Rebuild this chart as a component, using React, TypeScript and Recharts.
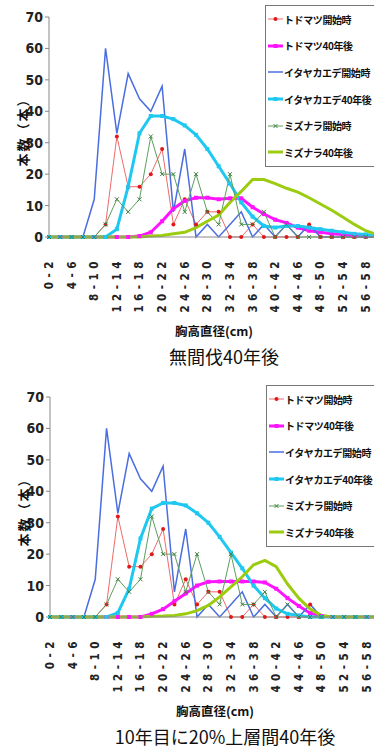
import React from "react";
import { LineChart, Line, XAxis, YAxis, Legend } from "recharts";

// 胸高直径階 (2cm 括約)
const classes = [
  "0-2", "2-4", "4-6", "6-8", "8-10", "10-12", "12-14", "14-16", "16-18", "18-20",
  "20-22", "22-24", "24-26", "26-28", "28-30", "30-32", "32-34", "34-36", "36-38", "38-40",
  "40-42", "42-44", "44-46", "46-48", "48-50", "50-52", "52-54", "54-56", "56-58", "58-60",
];
const yTicks = [0, 10, 20, 30, 40, 50, 60, 70];

// 開始時 (両シナリオ共通)
const todoStart = [0, 0, 0, 0, 0, 4, 32, 16, 16, 20, 28, 4, 12, 4, 8, 8, 0, 0, 4, 0, 0, 0, 0, 4, 0, 0, 0, 0, 0, 0];
const itaStart = [0, 0, 0, 0, 12, 60, 33, 52, 44, 40, 48, 8, 28, 0, 4, 0, 4, 8, 0, 4, 0, 4, 0, 4, 0, 0, 0, 0, 0, 0];
const mizuStart = [0, 0, 0, 0, 0, 4, 12, 8, 12, 32, 20, 20, 8, 20, 8, 4, 20, 4, 4, 8, 0, 4, 0, 0, 0, 0, 0, 0, 0, 0];

// 無間伐40年後
const todo40A = [0, 0, 0, 0, 0, 0, 0, 0, 0.3, 1.5, 5, 9, 11.5, 12.5, 12.5, 12, 12.3, 12.3, 9.5, 7.3, 5.5, 4.5, 3, 2, 1.5, 1, 0.8, 0.5, 0.3, 0.2];
const ita40A = [0, 0, 0, 0, 0, 0, 2.5, 16, 33, 38.5, 38.5, 37.5, 35.5, 32.5, 28, 22.5, 17, 11, 6.5, 3.5, 3, 3.5, 3.5, 3, 2.5, 2, 1.5, 1, 0.8, 0.5];
const mizu40A = [0, 0, 0, 0, 0, 0, 0, 0, 0, 0.3, 0.5, 1, 1.5, 3, 5, 7, 11, 14.5, 18.3, 18.3, 17, 15.5, 14.3, 12.5, 10.5, 8.5, 6.3, 4, 2, 0.8];

// 10年目に20%上層間伐40年後
const todo40B = [0, 0, 0, 0, 0, 0, 0, 0, 0, 1, 2.5, 5, 7.5, 10, 11.2, 11.3, 11.3, 11.3, 11.3, 11, 9, 6, 3.5, 1.2, 0.3, 0, 0, 0, 0, 0];
const ita40B = [0, 0, 0, 0, 0, 0, 1.3, 9, 25, 34.5, 36.3, 36.3, 35.5, 33, 30, 25.5, 20.5, 15.5, 10, 6, 2.7, 1, 0.5, 0, 0, 0, 0, 0, 0, 0];
const mizu40B = [0, 0, 0, 0, 0, 0, 0, 0, 0, 0.2, 0.3, 0.5, 1, 2, 3.7, 6.4, 9.6, 12.8, 16.6, 18, 16, 10.5, 6, 2.5, 0.5, 0, 0, 0, 0, 0];

const JP = '"Noto Sans CJK JP", sans-serif';
const NUM = '"Liberation Sans Narrow", "DejaVu Sans Condensed", "Liberation Sans", Arial, sans-serif';

const ORDER = ["todoStart", "todo40", "itaStart", "ita40", "mizuStart", "mizu40"];

const STYLE: Record<string, { color: string; width: number; dot: string; dotColor: string }> = {
  todoStart: { color: "#f06a6a", width: 1, dot: "circle", dotColor: "#e01818" },
  todo40: { color: "#ff14ff", width: 3, dot: "square", dotColor: "#ff14ff" },
  itaStart: { color: "#4a6ee0", width: 1.5, dot: "none", dotColor: "#4a6ee0" },
  ita40: { color: "#1ec8f0", width: 3, dot: "square", dotColor: "#1ec8f0" },
  mizuStart: { color: "#5c9e5c", width: 1, dot: "cross", dotColor: "#3f7f3f" },
  mizu40: { color: "#9ccc10", width: 3, dot: "none", dotColor: "#9ccc10" },
};

function marker(kind: string, cx: number, cy: number, color: string, key?: any) {
  if (kind === "circle") return <circle key={key} cx={cx} cy={cy} r={2} fill={color} />;
  if (kind === "square") return <rect key={key} x={cx - 2} y={cy - 2} width={4} height={4} fill={color} />;
  if (kind === "cross")
    return (
      <path key={key} d={`M${cx - 2},${cy - 2}L${cx + 2},${cy + 2}M${cx + 2},${cy - 2}L${cx - 2},${cy + 2}`} stroke={color} strokeWidth={1} />
    );
  return <g key={key} />;
}

const makeDot = (name: string) => (p: any) => marker(STYLE[name].dot, p.cx, p.cy, STYLE[name].dotColor, p.key ?? p.index);

function XTick({ x, y, payload }: any) {
  const ty = y + 12;
  return (
    <text
      x={x}
      y={ty}
      transform={`rotate(-90, ${x}, ${ty})`}
      textAnchor="end"
      dy="0.35em"
      fontSize={11.5}
      fontWeight="bold"
      fontFamily={NUM}
      letterSpacing={4.5}
      fill="#222"
    >
      {payload.value}
    </text>
  );
}

function LegendBox({ payload }: any) {
  const items = [...(payload || [])].sort((a: any, b: any) => ORDER.indexOf(a.dataKey) - ORDER.indexOf(b.dataKey));
  return (
    <div style={{ border: "1px solid #777", background: "#fff", width: 140, fontFamily: JP }}>
      {items.map((p: any) => {
        const s = STYLE[p.dataKey];
        return (
          <div key={p.dataKey} style={{ height: 26.6, display: "flex", alignItems: "center" }}>
            <svg width={16} height={10} style={{ marginLeft: 2, flex: "none" }}>
              <line x1={0} y1={5} x2={15} y2={5} stroke={s.color} strokeWidth={s.width} />
              {marker(s.dot, 7.5, 5, s.dotColor)}
            </svg>
            <span style={{ fontSize: 10, letterSpacing: -0.4, fontWeight: "bold", color: "#111", whiteSpace: "nowrap" }}>{p.value}</span>
          </div>
        );
      })}
    </div>
  );
}

function Panel({ top, left, title, todo40, ita40, mizu40 }: any) {
  const data = classes.map((c, i) => ({
    cls: c,
    todoStart: todoStart[i],
    todo40: todo40[i],
    itaStart: itaStart[i],
    ita40: ita40[i],
    mizuStart: mizuStart[i],
    mizu40: mizu40[i],
  }));
  const line = (key: string, name: string) => (
    <Line
      key={key}
      type="linear"
      dataKey={key}
      name={name}
      stroke={STYLE[key].color}
      strokeWidth={STYLE[key].width}
      dot={STYLE[key].dot === "none" ? false : makeDot(key)}
      activeDot={false}
      isAnimationActive={false}
    />
  );
  return (
    <div style={{ position: "absolute", top, left, width: 400, height: 380 }}>
      <LineChart width={387} height={340} data={data} margin={{ top: 17, right: 10, bottom: 3, left: 19 }}>
        <XAxis xAxisId="top" orientation="top" dataKey="cls" tick={false} tickLine={false} height={0} axisLine={{ stroke: "#888" }} />
        <XAxis dataKey="cls" interval={1} height={100} tickLine={false} axisLine={{ stroke: "#888" }} tick={<XTick />} />
        <YAxis
          domain={[0, 70]}
          ticks={yTicks}
          interval={0}
          width={30}
          tickSize={4}
          tickLine={{ stroke: "#888" }}
          axisLine={{ stroke: "#888" }}
          tick={{ fontSize: 14, fontWeight: "bold", fill: "#222", fontFamily: NUM }}
        />
        <Legend
          layout="horizontal"
          verticalAlign="middle"
          align="center"
          itemSorter={(item: any) => ORDER.indexOf(item.dataKey)}
          content={<LegendBox />}
          wrapperStyle={{ left: 265, top: 5, width: 140 }}
        />
        {line("todoStart", "トドマツ開始時")}
        {line("todo40", "トドマツ40年後")}
        {line("itaStart", "イタヤカエデ開始時")}
        {line("ita40", "イタヤカエデ40年後")}
        {line("mizuStart", "ミズナラ開始時")}
        {line("mizu40", "ミズナラ40年後")}
      </LineChart>
      <div
        style={{
          position: "absolute",
          left: 22,
          top: 129,
          transform: "translate(-50%, -50%) rotate(-90deg)",
          fontFamily: JP,
          fontWeight: "bold",
          fontSize: 13,
          letterSpacing: 2,
          whiteSpace: "nowrap",
          color: "#111",
        }}
      >
        本数（本）
      </div>
      <div
        style={{
          position: "absolute",
          left: 214,
          top: 330,
          transform: "translate(-50%, -50%)",
          fontFamily: JP,
          fontWeight: "bold",
          fontSize: 12.5,
          whiteSpace: "nowrap",
          color: "#111",
        }}
      >
        胸高直径(cm)
      </div>
      <div
        style={{
          position: "absolute",
          left: 224,
          top: 356,
          transform: "translate(-50%, -50%)",
          fontFamily: JP,
          fontSize: 18,
          lineHeight: "22px",
          whiteSpace: "nowrap",
          color: "#111",
        }}
      >
        {title}
      </div>
    </div>
  );
}

export default function App() {
  return (
    <div style={{ position: "absolute", left: 0, top: 0, width: 374, height: 749, overflow: "hidden", background: "#fff" }}>
      <Panel top={0} left={0} title="無間伐40年後" todo40={todo40A} ita40={ita40A} mizu40={mizu40A} />
      <Panel top={380} left={1} title="10年目に20%上層間40年後" todo40={todo40B} ita40={ita40B} mizu40={mizu40B} />
    </div>
  );
}
